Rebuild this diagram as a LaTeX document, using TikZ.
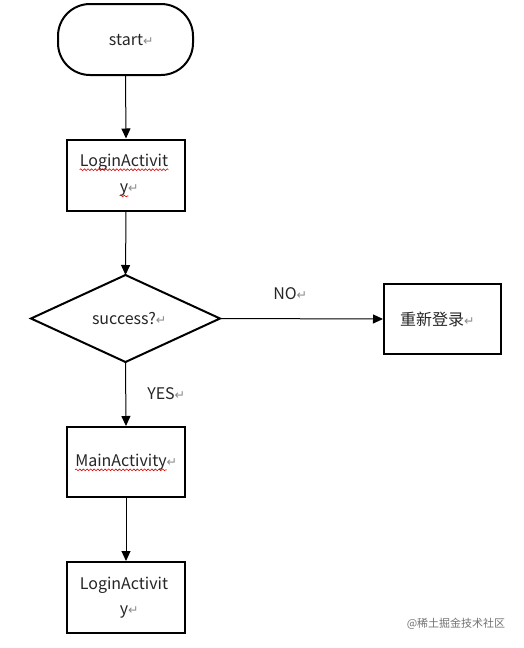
\documentclass[tikz,border=0pt]{standalone}
\usepackage{fontspec}
\setmainfont{Noto Sans CJK SC}
\newfontfamily\dvfont{DejaVu Sans}
\usetikzlibrary{arrows.meta,decorations.pathmorphing,calc}
\newcommand{\retmark}{{\dvfont\color{black!45}\fontsize{12.5}{12.5}\selectfont ↵}}
\tikzset{
  boxnode/.style={draw, line width=2pt, minimum width=118, minimum height=71, inner sep=0},
  txt/.style={inner sep=0, font=\fontsize{16}{18}\selectfont, text=black!85},
  arr/.style={line width=1pt, -{Triangle[length=10pt,width=9pt]}},
  wavy/.style={red!85!black, line width=0.6pt, decorate, decoration={snake, amplitude=0.9pt, segment length=3.6pt}},
}
\begin{document}
\begin{tikzpicture}[x=1pt,y=-1pt]
\useasboundingbox[fill=white] (0,0) rectangle (523,648);
% start
\node[draw, line width=2pt, rounded corners=32, minimum width=135, minimum height=71, inner sep=0] (start) at (125.5,39.5) {};
\node[txt] (starttxt) at (126,40) {start\rlap{\retmark}};
% LoginActivity 1
\node[boxnode] (login1) at (126,175) {};
\node[txt] (login1a) at (124,162) {LoginActivit};
\node[txt] (login1b) at (124,190) {y\rlap{\retmark}};
\draw[wavy] ($(login1a.base west)+(0,3.5)$) -- ($(login1a.base east)+(0,3.5)$);
\draw[wavy] ($(login1b.base west)+(0,3.5)$) -- ($(login1b.base east)+(0,3.5)$);
% decision
\coordinate (dtop) at (125.5,275);
\coordinate (dright) at (220,318.5);
\coordinate (dbot) at (125.5,362);
\coordinate (dleft) at (31,318.5);
\draw[line width=2pt, line join=miter] (dtop) -- (dright) -- (dbot) -- (dleft) -- cycle;
\node[txt] (dectxt) at (124,319) {success?\rlap{\retmark}};
% relogin
\node[boxnode, minimum width=117, minimum height=70] (relog) at (442.5,319) {};
\node[txt] (relogtxt) at (432,319) {重新登录\rlap{\retmark}};
% main
\node[boxnode, minimum height=70] (main) at (126,462) {};
\node[txt] (maintxt) at (121,462) {MainActivity\rlap{\retmark}};
\draw[wavy] ($(maintxt.base west)+(0,3.5)$) -- ($(maintxt.base east)+(0,3.5)$);
% LoginActivity 2
\node[boxnode] (login2) at (126,597.5) {};
\node[txt] (login2a) at (124,585) {LoginActivit};
\node[txt] (login2b) at (124,612) {y\rlap{\retmark}};
% connectors
\draw[arr] (start.south) -- (login1.north);
\draw[arr] (login1.south) -- (dtop);
\draw[arr] (dright) -- (relog.west);
\draw[arr] (dbot) -- (main.north);
\draw[arr] (main.south) -- (login2.north);
% labels
\node[txt] (nolbl) at (285,294) {NO\rlap{\retmark}};
\node[txt] (yeslbl) at (161,394) {YES\rlap{\retmark}};
% watermark
\node[inner sep=0, font=\fontsize{11}{12}\selectfont, text=black!55] (wm) at (456,624) {@稀土掘金技术社区};
\end{tikzpicture}
\end{document}
